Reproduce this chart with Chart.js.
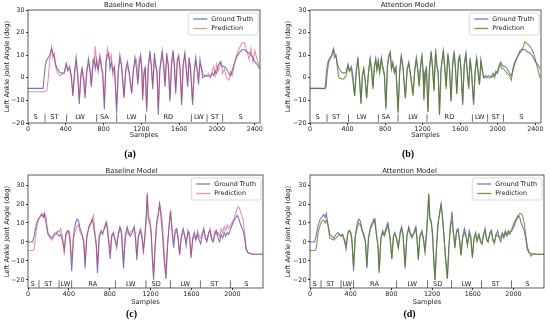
<!DOCTYPE html>
<html><head><meta charset="utf-8">
<script src="https://cdn.jsdelivr.net/npm/chart.js@4/dist/chart.umd.min.js"></script>
<style>html,body{margin:0;padding:0;background:#fff;width:550px;height:327px;overflow:hidden;position:relative}</style>
</head><body>
<script>
// ---------- DATA ----------
// Trial 1 (panels a, b)
const t1x = [0,160,172,185,200,215,230,250,262,278,292,310,335,360,385,405,420,440,458,475,493,510,526,543,558,572,588,603,622,640,656,670,686,700,712,727,742,760,775,792,808,825,840,855,868,882,898,915,938,955,972,990,1016,1035,1052,1070,1097,1115,1132,1148,1162,1178,1192,1205,1213,1228,1240,1256,1272,1290,1305,1320,1338,1352,1365,1379,1395,1420,1437,1450,1468,1485,1502,1518,1535,1550,1563,1580,1595,1610,1626,1642,1660,1675,1690,1705,1720,1742,1758,1775,1790,1805,1820,1835,1850,1870,1890,1910,1930,1950,1965,1980,1995,2010,2030,2045,2060,2080,2100,2125,2145,2160,2180,2205,2235,2265,2290,2315,2340,2360,2380,2400,2425,2450];
const t1truth = [-4.7,-4.7,1,6,8,9,10,13,11,9,6,4,2.5,2,2.5,6,3,5,1,-8,3,9,1,-11.6,1,4,-1,-9,2,8.5,4,-4,5,8.5,4,8,3,9,5,2,-14,6,10,11,4,7,3,5,-15.7,3,10,5,-9,4,7,2,-7,3,9,4,-3,6,10,3,-10,2,5,-15,4,12,5,-5,11,5,3,-16.5,4,12,4,-4,11,5,-10.5,6,12,4,-7,8,10,3,-12,6,11,3,-4,9,3,-12,3,9,3,-3,8,4,0,1,0.5,1,0.5,2,1,3,2,5,7,6,5,5,4,2,1,3,6,9,11,12.5,12.5,11.5,11,10,9,7,6,4];
const t1predBaseline = [-6.2,-6.2,-6.2,-6,-5.5,0,8,13.5,9,11,5,2.5,1,1.5,2,6.5,4,4,0,-6.5,1,7,2,-9,-1,4,1,-7,4,6,3,-3,8,7,14,5,4,10,7,-1,-10,7,13,9,8,10,1,4,-12,2,8,6,-8,3,5,3,-6,4,7,8,-1,9,8,4,-8,3,4,-13,5,10,6,-3,8,6,2,-13,3,10,6,-2,9,6,-9,5,11,6,-5,7,9,4,-10,5,10,5,-2,8,5,-10,2,7,4,0,6,5,2,1,1,2,0,3,5,1,6,3,5,7,2,4,0,-1,3,1,5,10,13,15.5,15.5,12,8,13,7,12,8,5];
const t1predAttention = [-4.7,-4.8,-4,3,7,8.5,9.5,12,9,10,4,0,-0.5,-0.5,1,5.5,3,4,-2,-8,3,8,0,-11,1,4,-1,-9,2,8,2,-5,5,8,3,7,2,8,4,1,-13,5,9,11.5,4,6,2,4,-15,2,9,4,-9,4,6,1,-8,3,8,3,-4,5,9,2,-9,2,4,-15,3,11,4,-6,13,5,2,-16,3,12,3,-5,10,4,-10,5,11,3,-7,7,9,2,-11,5,10,2,-5,8,2,-11,2,8,2,-3,7,3,0,0,0,0,0,1,0,2,2,4,6,4,4,3,2,1,-1,4,7,9,12,13,16,15,14,13,11,8,4,0];
// Trial 2 (panels c, d)
const t2x = [0,45,60,80,100,115,135,150,160,175,195,215,235,255,275,290,305,320,340,355,370,385,400,412,428,445,465,480,495,510,530,545,559,575,595,612,628,640,655,668,680,697,715,730,750,765,778,790,804,820,835,850,868,886,900,915,935,952,970,985,1000,1020,1040,1052,1065,1080,1100,1115,1130,1145,1158,1167,1178,1192,1205,1218,1229,1242,1258,1275,1288,1300,1315,1330,1350,1365,1380,1395,1410,1425,1440,1455,1470,1484,1500,1518,1532,1548,1565,1580,1596,1612,1628,1642,1660,1675,1690,1705,1720,1735,1750,1768,1782,1798,1812,1830,1845,1860,1875,1890,1905,1920,1935,1950,1965,1985,2005,2025,2045,2060,2075,2090,2105,2120,2135,2150,2170,2190,2220,2260,2300];
const t2truth = [0,0,3,9,12,13,14.5,13,15,10,4,3,2,4,5,4,3,4,0,-4,4,6,5,0,-15.5,3,10,12,11,7,4,0,-14,2,8,10,12,9,3,-2,-16.5,2,6,4,8,10,6,0,-9,3,5,2,-3,5,8,4,-14,3,8,5,3,5,8,2,-9.5,3,6,2,-5,4,15,25,12,10,5,-10,-20,-5,10,15,20,14,5,-8,-19.5,-3,8,16,5,-3,6,7,1,-7,3,7,4,-2,6,3,-8.5,2,5,1,4,1,-1,3,7,2,0,5,6,1,0,4,6,2,0,4,2,5,3,5,4,7,10,12,14,13,10,8,6,2,-4,-5.5,-6,-6.3,-6.5,-6.5,-6.5];
const t2predBaseline = [-4.5,-4.5,-4,6,11,13,15,13,15,14,5,2,1,3,4,6,5,7,2,-7,3,5,6,2,-10,2,6,8,9,5,3,1,-10,3,7,9,12,14,5,0,-12,4,5,5,7,11,8,2,-6,4,4,1,-1,4,7,6,-10,2,6,4,5,6,7,3,-7,2,7,4,-4,3,12,26,14,12,6,-8,-17,-3,8,14,20,17,10,-3,-17,-1,8,17,7,0,4,6,3,-6,2,5,3,1,4,5,-7,1,3,2,6,3,2,5,6,3,1,4,7,2,1,6,4,5,3,7,5,8,6,9,7,9,11,14,17.5,18.5,17,14,12,5,-3,-5.5,-6,-6.3,-6.5,-6.5,-6.5];
const t2predAttention = [-4.5,-4.5,-4,5,9,11,11.5,10,11.5,9,2,1.5,1,2,3,4,3,4,1,-2,4,6,5,2,-13,3,8,10,9,6,3,0,-13,2,7,9,11,12,3,-2,-15,2,5,3,6,9,5,1,-9,3,4,2,-3,4,7,3,-13,3,7,4,2,4,7,1,-9,3,5,1,-5,5,16,25.5,13,11,2,-12,-20,-4,9,16,19.5,15,4,-6,-19,-3,9,11,4,-2,5,6,1,-7,2,5,3,-1,4,2,-8,2,4,0,4,0,-1,4,6,1,0,4,6,1,-1,4,3,3,2,5,3,6,4,6,5,6,8,11,13,15,15,14,10,4,-2,-5,-7.5,-6.5,-6.5,-6.5,-6.5];

// axis ticks
const xTicksAB = [0,400,800,1200,1600,2000,2400];
const xTicksCD = [0,400,800,1200,1600,2000];
const yTicksAB = [-20,-10,0,10,20,30];
const yTicksCD = [-20,-10,0,10,20,30];

// activity annotations
const actAB = ['S','ST','LW','SA','LW','RD','LW','ST','S'];
const actABx = [81,279,550,808,1097,1485,1808,1977,2250];
const sepAB = [180,409,727,938,1245,1728,1894,2060];
const actCD = ['S','ST','LW','RA','LW','SD','LW','ST','S'];
const actCDx = [46,199,366,634,1006,1255,1539,1824,2137];
const sepCD = [108,304,428,853,1154,1392,1686,1980];

const seriesNames = ['Ground Truth','Prediction'];
const panelTitles = ['Baseline Model','Attention Model','Baseline Model','Attention Model'];
const panelLetters = ['(a)','(b)','(c)','(d)'];

// ---------- STYLE / LAYOUT ----------
const FONT = 'DejaVu Sans';
const TEXT = '#1a1a1a';
const GT_COLOR = 'rgba(55,45,150,0.65)';
const BASE_COLOR = 'rgba(200,60,100,0.55)';
const ATT_COLOR = 'rgba(85,130,25,0.8)';

function pts(xs, ys){ return xs.map((x,i)=>({x:x, y:ys[i]})); }
function fmt(v){ return v<0 ? '\u2212'+Math.abs(v) : String(v); }

const framePlugin = {
  id:'frameLegendActs',
  afterDatasetsDraw(chart){
    const o = chart.options.plugins.frameLegendActs;
    const ctx = chart.ctx, a = chart.chartArea;
    const xs = chart.scales.x, ys = chart.scales.y;
    ctx.save();
    // activity labels
    ctx.fillStyle = TEXT;
    ctx.font = '6.6px "'+FONT+'"';
    ctx.textAlign = 'center'; ctx.textBaseline = 'middle';
    const yy = ys.getPixelForValue(o.actY);
    o.acts.forEach((t,i)=>ctx.fillText(t, xs.getPixelForValue(o.actX[i]), yy));
    ctx.font = '7.5px "'+FONT+'"';
    o.seps.forEach(s=>ctx.fillText('|', xs.getPixelForValue(s), yy));
    // frame
    ctx.strokeStyle = '#333'; ctx.lineWidth = 0.8;
    ctx.strokeRect(a.left, a.top, a.right-a.left, a.bottom-a.top);
    // legend
    ctx.font = '6.4px "'+FONT+'"';
    const ds = chart.data.datasets;
    const tw = Math.max(...ds.map(d=>ctx.measureText(d.label).width));
    const bw = 5 + 14 + 4 + tw + 5, bh = 22;
    const bx = a.right - 2 - bw, by = a.top + 3;
    ctx.fillStyle = 'rgba(255,255,255,0.85)';
    ctx.strokeStyle = '#d0d0d0'; ctx.lineWidth = 0.8;
    ctx.beginPath();
    if (ctx.roundRect) ctx.roundRect(bx, by, bw, bh, 2); else ctx.rect(bx,by,bw,bh);
    ctx.fill(); ctx.stroke();
    ctx.textAlign = 'left';
    ds.forEach((d,i)=>{
      const ry = by + 6 + i*9.5;
      ctx.strokeStyle = d.borderColor; ctx.lineWidth = 1.3;
      ctx.beginPath(); ctx.moveTo(bx+5, ry); ctx.lineTo(bx+19, ry); ctx.stroke();
      ctx.fillStyle = TEXT; ctx.fillText(d.label, bx+23, ry);
    });
    ctx.restore();
  }
};

function makePanel(p){
  const wrap = document.createElement('div');
  wrap.style.cssText = `position:absolute;left:${p.left}px;top:${p.top}px;width:${p.w}px;height:${p.h}px`;
  const cv = document.createElement('canvas');
  cv.width = p.w; cv.height = p.h; cv.style.width = p.w+'px'; cv.style.height = p.h+'px';
  wrap.appendChild(cv); document.body.appendChild(wrap);
  const titleSize = 6.9, subSize = 10, axTitleSize = 6.7, tickSize = 6.4;
  const xb = p.xb;
  new Chart(cv, {
    type:'line',
    data:{ datasets:[
      {label:seriesNames[0], data:pts(p.x,p.gt), borderColor:GT_COLOR, borderWidth:1.1, pointRadius:0, tension:0, order:1, fill:false},
      {label:seriesNames[1], data:pts(p.x,p.pred), borderColor:p.predColor, borderWidth:1.1, pointRadius:0, tension:0, order:0, fill:false}
    ]},
    options:{
      responsive:false, animation:false, events:[], devicePixelRatio:1,
      layout:{padding:{left:0, right:p.w-p.R, top:0, bottom:0}},
      plugins:{
        legend:{display:false}, tooltip:{enabled:false},
        title:{display:true, text:p.title, color:TEXT, font:{family:FONT, size:titleSize, weight:'normal', lineHeight:1},
               padding:{top:p.titleY-titleSize/2, bottom:p.T-p.titleY-titleSize/2}},
        subtitle:{display:true, position:'bottom', text:p.letter, color:'#000',
               font:{family:'Liberation Serif', size:subSize, weight:'bold', lineHeight:1},
               padding:{top:p.letterY-xb-subSize/2, bottom:p.h-xb-subSize-(p.letterY-xb-subSize/2)}},
        frameLegendActs:{acts:p.acts, actX:p.actX, seps:p.seps, actY:p.actY}
      },
      scales:{
        x:{type:'linear', min:0, max:p.xmax,
           afterBuildTicks:s=>{s.ticks = p.xTicks.map(v=>({value:v}));},
           afterFit:s=>{s.height = xb-p.B;},
           ticks:{autoSkip:false, maxRotation:0, color:TEXT, padding:1, font:{family:FONT,size:tickSize}, callback:v=>fmt(v)},
           grid:{display:true, drawOnChartArea:false, drawTicks:true, tickLength:2, color:'#333'},
           border:{display:false},
           title:{display:true, text:'Samples', color:TEXT, font:{family:FONT,size:axTitleSize,lineHeight:1},
                  padding:{top:0,bottom:xb-p.samplesY-axTitleSize/2}}},
        y:{type:'linear', min:p.ymin, max:p.ymax,
           afterBuildTicks:s=>{s.ticks = p.yTicks.map(v=>({value:v}));},
           afterFit:s=>{s.width = p.L;},
           ticks:{color:TEXT, padding:1.5, font:{family:FONT,size:tickSize}, callback:v=>fmt(v)},
           grid:{display:true, drawOnChartArea:false, drawTicks:true, tickLength:2, color:'#333'},
           border:{display:false},
           title:{display:true, text:'Left Ankle Joint Angle (deg)', color:TEXT, font:{family:FONT,size:axTitleSize,lineHeight:1},
                  padding:{top:p.yTitleX-axTitleSize/2,bottom:0}}}
      }
    },
    plugins:[framePlugin]
  });
}

const common1 = {x:t1x, gt:t1truth, xmax:2455, ymin:-20, ymax:30, xTicks:xTicksAB, yTicks:yTicksAB,
  acts:actAB, actX:actABx, seps:sepAB, actY:-17.6, h:160, T:10, B:123, xb:143, titleY:5.5, samplesY:135, letterY:154};
const common2 = {x:t2x, gt:t2truth, xmax:2300, ymin:-24.3, ymax:35.3, xTicks:xTicksCD, yTicks:yTicksCD,
  acts:actCD, actX:actCDx, seps:sepCD, actY:-22.3, h:167, T:15, B:128, xb:147, titleY:11, samplesY:142, letterY:154.5};

makePanel(Object.assign({}, common1, {left:0, top:0, w:275, L:28, R:260, yTitleX:7, pred:t1predBaseline, predColor:BASE_COLOR, title:panelTitles[0], letter:panelLetters[0]}));
makePanel(Object.assign({}, common1, {left:275, top:0, w:275, L:35, R:266, yTitleX:13, xmax:2460, pred:t1predAttention, predColor:ATT_COLOR, title:panelTitles[1], letter:panelLetters[1]}));
makePanel(Object.assign({}, common2, {left:0, top:160, w:275, L:28, R:263, yTitleX:7, pred:t2predBaseline, predColor:BASE_COLOR, title:panelTitles[2], letter:panelLetters[2]}));
makePanel(Object.assign({}, common2, {left:275, top:160, w:275, L:35, R:269, yTitleX:13, pred:t2predAttention, predColor:ATT_COLOR, title:panelTitles[3], letter:panelLetters[3]}));
</script>
</body></html>
